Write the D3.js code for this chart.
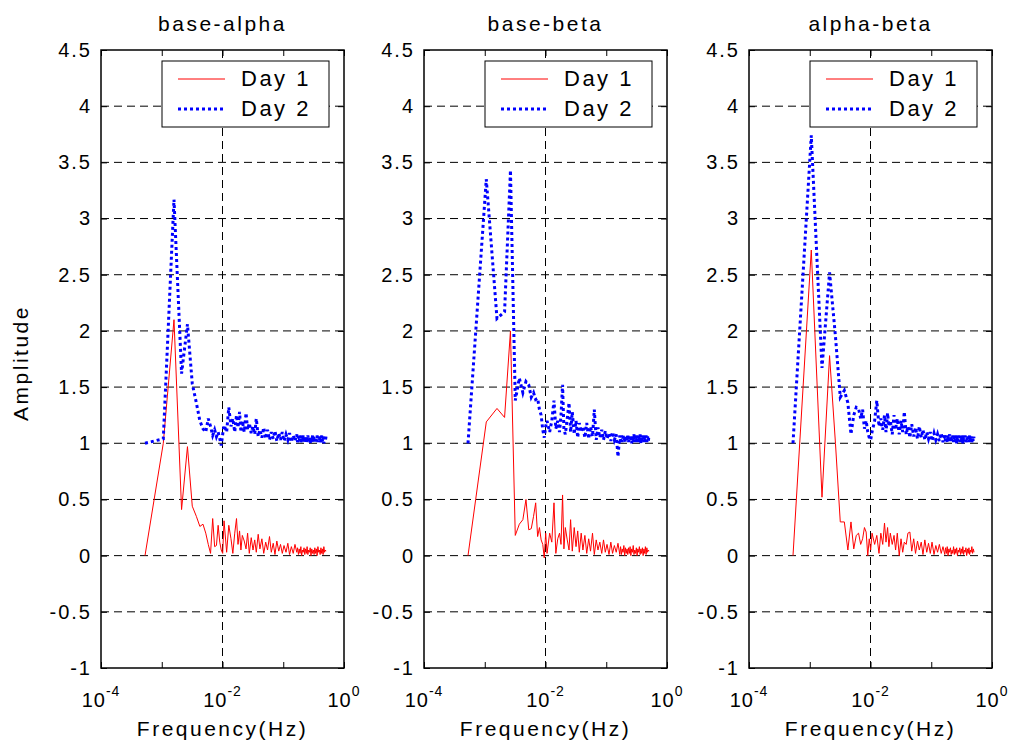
<!DOCTYPE html>
<html>
<head>
<meta charset="utf-8">
<script src="https://cdn.jsdelivr.net/npm/d3@7"></script>
<style>
  body { margin: 0; background: #fff; }
  svg { display: block; font-family: "Liberation Sans", Arial, sans-serif; }
  .tick text { font-size: 20px; letter-spacing: 2px; fill: #000; }
</style>
</head>
<body>
<div id="chart"></div>
<script>
// Frequency grid shared by all panels (Hz)
const freqHz = [
  0.00053, 0.00106, 0.00159, 0.00212, 0.00265, 0.00318, 0.00371, 0.00424, 0.00477, 0.0053,
  0.00583, 0.00636, 0.00689, 0.00742, 0.00795, 0.00848, 0.00901, 0.00954, 0.01007, 0.0106,
  0.0117, 0.0127, 0.0138, 0.0148, 0.0159, 0.017, 0.018, 0.0191, 0.0201, 0.0212,
  0.0228, 0.0244, 0.0259, 0.0276, 0.0297, 0.0318, 0.0339, 0.036, 0.0387, 0.0413,
  0.0445, 0.0477, 0.0514, 0.0551, 0.0594, 0.0636, 0.0684, 0.0731, 0.0784, 0.0843,
  0.0901, 0.0965, 0.103, 0.111, 0.119, 0.127, 0.136, 0.146, 0.156, 0.167,
  0.172, 0.178, 0.183, 0.189, 0.195, 0.201, 0.207, 0.213, 0.22, 0.226,
  0.233, 0.24, 0.247, 0.254, 0.262, 0.27, 0.278, 0.286, 0.295, 0.304,
  0.313, 0.322, 0.331, 0.341, 0.351, 0.361, 0.372, 0.383, 0.394, 0.405,
  0.417, 0.429, 0.441, 0.453, 0.466, 0.479, 0.493, 0.506
];

const titles = ['base-alpha', 'base-beta', 'alpha-beta'];
const seriesNames = ['Day 1', 'Day 2'];

// base-alpha
const baseAlphaDay1 = [
  0, 1.0, 2.1, 0.41, 0.97, 0.44, 0.35, 0.26, 0.28, 0.2,
  0.1, 0.02, 0.33, 0.08, 0.09, 0.27, 0.12, 0.05, 0.02, 0.31,
  0.03, 0.27, 0.15, 0.02, 0.2, 0.33, 0.1, 0.22, 0.05, 0.18,
  0.13, 0.06, 0.2, 0.02, 0.16, 0.05, 0.14, 0.03, 0.19, 0.06,
  0.15, 0.02, 0.12, 0.05, 0.17, 0.03, 0.11, 0.01, 0.13, 0.04,
  0.1, 0.02, 0.09, 0.03, 0.11, 0.01, 0.08, 0.02, 0.1, 0.03,
  0.07, 0.01, 0.06, 0.02, 0.08, 0.0, 0.05, 0.03, 0.07, 0.01,
  0.06, 0.02, 0.08, 0.01, 0.05, 0.03, 0.07, 0.0, 0.06, 0.02,
  0.05, 0.01, 0.07, 0.02, 0.06, 0.0, 0.08, 0.03, 0.05, 0.01,
  0.07, 0.02, 0.06, 0.01, 0.08, 0.03, 0.05, 0.04
];
const baseAlphaDay2 = [
  1.0, 1.04, 3.17, 1.62, 2.06, 1.53, 1.36, 1.2, 1.13, 1.1,
  1.22, 1.15, 1.07, 1.12, 1.06, 1.1, 1.04, 0.98, 1.08, 1.16,
  1.1, 1.32, 1.15, 1.22, 1.1, 1.25, 1.14, 1.28, 1.1, 1.2,
  1.1, 1.27, 1.12, 1.18, 1.09, 1.15, 1.08, 1.22, 1.06, 1.12,
  1.05, 1.14, 1.04, 1.12, 1.03, 1.1, 1.04, 1.11, 1.02, 1.09,
  1.03, 1.1, 1.02, 1.08, 1.03, 1.09, 1.01, 1.07, 1.02, 1.08,
  1.01, 1.06, 1.02, 1.07, 1.01, 1.05, 1.02, 1.07, 1.0, 1.06,
  1.02, 1.05, 1.01, 1.07, 1.02, 1.06, 1.0, 1.05, 1.02, 1.07,
  1.01, 1.06, 1.02, 1.05, 1.0, 1.07, 1.01, 1.06, 1.02, 1.05,
  1.01, 1.07, 1.02, 1.06, 1.0, 1.05, 1.02, 1.06
];

// base-beta
const baseBetaDay1 = [
  0, 1.19, 1.31, 1.23, 2.0, 0.18, 0.28, 0.32, 0.5, 0.23,
  0.24, 0.35, 0.47, 0.17, 0.25, 0.14, 0.1, -0.02, 0.2, 0.02,
  0.2, 0.12, 0.47, 0.02, 0.15, 0.2, 0.1, 0.54, 0.06, 0.25,
  0.14, 0.05, 0.32, 0.04, 0.25, 0.08, 0.22, 0.03, 0.2, 0.05,
  0.18, 0.02, 0.15, 0.04, 0.2, 0.01, 0.14, 0.05, 0.12, 0.02,
  0.14, 0.03, 0.1, 0.01, 0.12, 0.02, 0.09, 0.03, 0.11, 0.01,
  0.08, 0.01, 0.06, 0.03, 0.09, 0.0, 0.07, 0.02, 0.06, 0.01,
  0.07, 0.02, 0.08, 0.0, 0.06, 0.03, 0.09, 0.01, 0.05, 0.02,
  0.07, 0.0, 0.06, 0.03, 0.08, 0.01, 0.06, 0.02, 0.07, 0.0,
  0.06, 0.02, 0.08, 0.01, 0.07, 0.03, 0.05, 0.04
];
const baseBetaDay2 = [
  1.0, 3.35, 2.11, 2.17, 3.43, 1.38, 1.58, 1.45, 1.55, 1.52,
  1.41, 1.45, 1.39, 1.4, 1.3, 1.25, 1.12, 1.05, 1.15, 1.2,
  1.1, 1.2, 1.38, 1.13, 1.2, 1.1, 1.25, 1.52, 1.12, 1.08,
  1.22, 1.36, 1.1, 1.28, 1.08, 1.2, 1.05, 1.18, 1.1, 1.15,
  1.05, 1.18, 1.04, 1.15, 1.06, 1.3, 1.03, 1.14, 1.05, 1.12,
  1.03, 1.11, 1.04, 1.09, 1.02, 1.1, 1.03, 1.08, 0.88, 1.07,
  1.02, 1.07, 1.01, 1.08, 1.02, 1.06, 1.01, 1.07, 1.02, 1.08,
  1.01, 1.06, 1.02, 1.07, 1.0, 1.06, 1.02, 1.08, 1.01, 1.06,
  1.02, 1.07, 1.01, 1.06, 1.02, 1.08, 1.0, 1.06, 1.02, 1.07,
  1.01, 1.06, 1.02, 1.07, 1.01, 1.06, 1.02, 1.07
];

// alpha-beta
const alphaBetaDay1 = [
  0, 2.72, 0.52, 1.78, 1.0, 0.3, 0.3, 0.05, 0.3, 0.06,
  0.18, 0.2, 0.1, 0.15, 0.25, 0.21, 0.0, 0.15, 0.05, 0.2,
  0.1, 0.18, 0.02, 0.2, 0.1, 0.29, 0.12, 0.25, 0.08, 0.2,
  0.1, 0.18, 0.05, 0.2, 0.0, 0.15, 0.03, 0.12, 0.1, 0.2,
  0.21, 0.04, 0.15, 0.02, 0.13, 0.05, 0.12, 0.01, 0.14, 0.03,
  0.11, 0.02, 0.12, 0.01, 0.09, 0.03, 0.1, 0.02, 0.08, 0.01,
  0.07, 0.02, 0.08, 0.0, 0.06, 0.03, 0.07, 0.01, 0.05, 0.02,
  0.08, 0.01, 0.06, 0.02, 0.07, 0.0, 0.05, 0.03, 0.07, 0.01,
  0.06, 0.02, 0.08, 0.01, 0.05, 0.03, 0.07, 0.0, 0.06, 0.02,
  0.07, 0.01, 0.05, 0.03, 0.08, 0.02, 0.06, 0.03
];
const alphaBetaDay2 = [
  1.0, 3.74, 1.67, 2.52, 1.95, 1.41, 1.47, 1.36, 1.08, 1.25,
  1.32, 1.31, 1.22, 1.3, 1.13, 1.2, 1.1, 1.05, 1.03, 1.1,
  1.2, 1.38, 1.15, 1.22, 1.12, 1.25, 1.1, 1.27, 1.15, 1.2,
  1.08, 1.25, 1.12, 1.22, 1.08, 1.2, 1.1, 1.28, 1.08, 1.15,
  1.05, 1.17, 1.06, 1.14, 1.04, 1.15, 1.05, 1.12, 1.03, 1.1,
  1.04, 1.1, 1.02, 1.09, 1.03, 1.08, 1.02, 1.09, 1.01, 1.07,
  1.02, 1.07, 1.01, 1.06, 1.02, 1.08, 1.01, 1.06, 1.02, 1.07,
  1.01, 1.06, 1.02, 1.07, 1.0, 1.06, 1.02, 1.07, 1.01, 1.06,
  1.02, 1.07, 1.0, 1.06, 1.02, 1.07, 1.01, 1.05, 1.02, 1.06,
  1.01, 1.07, 1.02, 1.06, 1.01, 1.05, 1.02, 1.06
];

const yTicks = [-1, -0.5, 0, 0.5, 1, 1.5, 2, 2.5, 3, 3.5, 4, 4.5];
const xTicks = [1e-4, 1e-3, 1e-2, 1e-1, 1];
const xLabelTicks = [1e-4, 1e-2, 1];
const xLabelExps = ['-4', '-2', '0'];

const panels = [
  { title: titles[0], day1: baseAlphaDay1, day2: baseAlphaDay2 },
  { title: titles[1], day1: baseBetaDay1, day2: baseBetaDay2 },
  { title: titles[2], day1: alphaBetaDay1, day2: alphaBetaDay2 }
];

// Layout
const W = 1016, H = 744;
const panelLeft = [101, 424, 749];
const panelW = 243;
const plotTop = 50, plotBottom = 668;
const panelH = plotBottom - plotTop;

const svg = d3.select('#chart').append('svg')
  .attr('width', W)
  .attr('height', H);

const x = d3.scaleLog().domain([1e-4, 1]).range([0, panelW]);
const y = d3.scaleLinear().domain([-1, 4.5]).range([panelH, 0]);

const line = d3.line()
  .x(d => x(d[0]))
  .y(d => y(d[1]));

panels.forEach((p, i) => {
  const g = svg.append('g').attr('transform', `translate(${panelLeft[i]},${plotTop})`);

  // Grid
  g.append('g').selectAll('line.hgrid')
    .data(yTicks.slice(1, -1))
    .join('line')
    .attr('x1', 0).attr('x2', panelW)
    .attr('y1', d => y(d)).attr('y2', d => y(d))
    .attr('stroke', '#000')
    .attr('stroke-width', 1)
    .attr('stroke-dasharray', '8,5');

  g.append('line')
    .attr('x1', x(1e-2)).attr('x2', x(1e-2))
    .attr('y1', 0).attr('y2', panelH)
    .attr('stroke', '#000')
    .attr('stroke-width', 1)
    .attr('stroke-dasharray', '8,5');

  // Axes (ticks pointing inward)
  const left = g.append('g')
    .call(d3.axisLeft(y).tickValues(yTicks).tickSizeInner(-6).tickSizeOuter(0).tickPadding(9)
      .tickFormat(d => String(d)));
  const right = g.append('g').attr('transform', `translate(${panelW},0)`)
    .call(d3.axisRight(y).tickValues(yTicks).tickSizeInner(-6).tickSizeOuter(0).tickFormat(''));
  const topAx = g.append('g')
    .call(d3.axisTop(x).tickValues(xTicks).tickSizeInner(-6).tickSizeOuter(0).tickFormat(''));
  const botAx = g.append('g').attr('transform', `translate(0,${panelH})`)
    .call(d3.axisBottom(x).tickValues(xTicks).tickSizeInner(-6).tickSizeOuter(0).tickFormat(''));
  [left, right, topAx, botAx].forEach(a => {
    a.select('.domain').remove();
    a.selectAll('.tick line').attr('stroke', '#000');
  });

  // x tick labels as 10^n
  const xl = g.append('g').selectAll('text.xlab')
    .data(xLabelTicks)
    .join('text')
    .attr('x', d => x(d))
    .attr('y', panelH + 39)
    .attr('text-anchor', 'middle')
    .style('font-size', '20px')
    .style('letter-spacing', '1px');
  xl.append('tspan').text('10');
  xl.append('tspan')
    .attr('dy', -11)
    .style('font-size', '14px')
    .text((d, j) => xLabelExps[j]);

  // Series
  const day1 = freqHz.map((f, j) => [f, p.day1[j]]);
  const day2 = freqHz.map((f, j) => [f, p.day2[j]]);

  g.append('path')
    .datum(day1)
    .attr('d', line)
    .attr('fill', 'none')
    .attr('stroke', '#ff0000')
    .attr('stroke-width', 1);

  g.append('path')
    .datum(day2)
    .attr('d', line)
    .attr('fill', 'none')
    .attr('stroke', '#0000ff')
    .attr('stroke-width', 3)
    .attr('stroke-dasharray', '3,3');

  // Box
  g.append('rect')
    .attr('width', panelW).attr('height', panelH)
    .attr('fill', 'none')
    .attr('stroke', '#000')
    .attr('stroke-width', 1.5);

  // Legend
  const lg = g.append('g').attr('transform', 'translate(61,11)');
  lg.append('rect')
    .attr('width', 167).attr('height', 66)
    .attr('fill', '#fff')
    .attr('stroke', '#000')
    .attr('stroke-width', 1);
  lg.append('line')
    .attr('x1', 16).attr('x2', 63).attr('y1', 18).attr('y2', 18)
    .attr('stroke', '#ff0000').attr('stroke-width', 1);
  lg.append('line')
    .attr('x1', 16).attr('x2', 63).attr('y1', 48).attr('y2', 48)
    .attr('stroke', '#0000ff').attr('stroke-width', 3).attr('stroke-dasharray', '3,3');
  lg.selectAll('text')
    .data(seriesNames)
    .join('text')
    .attr('x', 79)
    .attr('y', (d, j) => 25 + j * 30)
    .style('font-size', '22px')
    .style('letter-spacing', '2.5px')
    .text(d => d);

  // Title and x label
  g.append('text')
    .attr('x', panelW / 2)
    .attr('y', -19)
    .attr('text-anchor', 'middle')
    .style('font-size', '21px')
    .style('letter-spacing', '2.5px')
    .text(p.title);

  g.append('text')
    .attr('x', panelW / 2)
    .attr('y', panelH + 68)
    .attr('text-anchor', 'middle')
    .style('font-size', '21px')
    .style('letter-spacing', '2.5px')
    .text('Frequency(Hz)');
});

// y label
svg.append('text')
  .attr('transform', 'translate(28,363) rotate(-90)')
  .attr('text-anchor', 'middle')
  .style('font-size', '21px')
  .style('letter-spacing', '2.5px')
  .text('Amplitude');
</script>
</body>
</html>
